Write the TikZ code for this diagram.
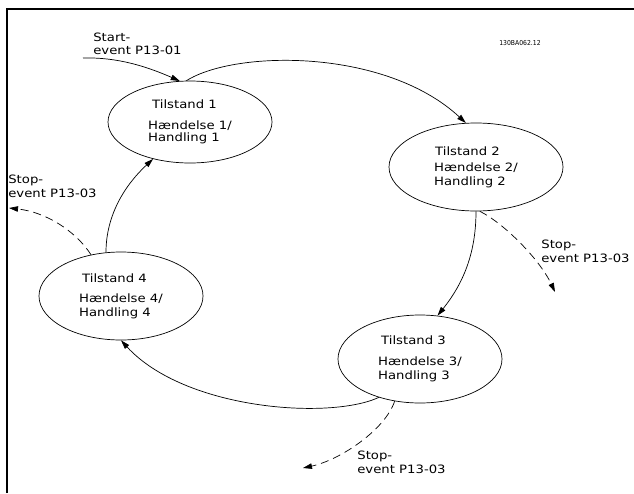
\documentclass[tikz,border=0pt]{standalone}
\usepackage{fontspec}
\usepackage{tikz}
\usetikzlibrary{arrows.meta, shapes.geometric}
\newfontfamily\diafont[FakeStretch=1.15]{DejaVu Sans}
\newfontfamily\codefont{DejaVu Sans Condensed}
\tikzset{every node/.append style={font=\diafont\fontsize{11.5}{14}\selectfont}}
\tikzset{
  state/.style={draw, ellipse, line width=0.7pt, inner sep=0pt, align=left,
    minimum width=164pt, minimum height=88pt},
  stoplabel/.style={anchor=base west, align=left, inner sep=0pt}
}

\begin{document}
\begin{tikzpicture}[x=1pt, y=-1pt, >={Triangle[length=9pt,width=5.5pt]}, line width=0.7pt]
    \useasboundingbox (0,0) rectangle (634,493);
    \draw[line width=2pt] (6.5,493) -- (6.5,8.5) -- (634,8.5);
    \node[font=\codefont\fontsize{6.8}{8}\selectfont] at (520,43) {130BA062.12};

    \node[state, minimum height=82pt] (T1) at (190,122) {\hspace*{4pt}Tilstand 1\\[7pt]Hændelse 1/\\[-2pt]Handling 1};
    \node[state, minimum width=174pt] (T2) at (476,167) {\hspace*{1pt}Tilstand 2\\[2pt]Hændelse 2/\\Handling 2};
    \node[state] (T3) at (420,359) {\hspace*{3pt}Tilstand 3\\[7pt]Hændelse 3/\\Handling 3};
    \node[state] (T4) at (121,296) {\hspace*{3pt}Tilstand 4\\[6pt]Hændelse 4/\\Handling 4};

    \coordinate (S0) at (83,58);
    \coordinate (P2) at (555,292);
    \coordinate (P3) at (303,468);
    \coordinate (P4) at (9,208);

    \node[stoplabel] (L0) at (93,54) {Start-\\[-1pt]event P13-01};
    \node[stoplabel] (L2) at (541,262) {Stop-\\event P13-03};
    \node[stoplabel] (L3) at (357,473) {Stop-\\event P13-03};
    \node[stoplabel] (L4) at (8,197) {Stop-\\event P13-03};

    \draw[->] (S0) .. controls (120,57) and (150,68) .. (T1.104);
    \draw[->] (T1.95) .. controls (235,50) and (385,48) .. (T2.103);
    \draw[->] (T2.south) .. controls (476,255) and (462,285) .. (T3.68);
    \draw[->] (T3.223) .. controls (330,420) and (185,410) .. (T4.south);
    \draw[->] (T4.109) .. controls (106,215) and (125,185) .. (T1.225);

    \draw[->, dash pattern=on 8pt off 5pt] (T2.-85) .. controls (505,224) and (540,260) .. (P2);
    \draw[->, dash pattern=on 8pt off 5pt] (T3.239) .. controls (385,430) and (340,460) .. (P3);
    \draw[->, dash pattern=on 8pt off 5pt] (T4.126) .. controls (75,230) and (45,212) .. (P4);
\end{tikzpicture}
\end{document}
